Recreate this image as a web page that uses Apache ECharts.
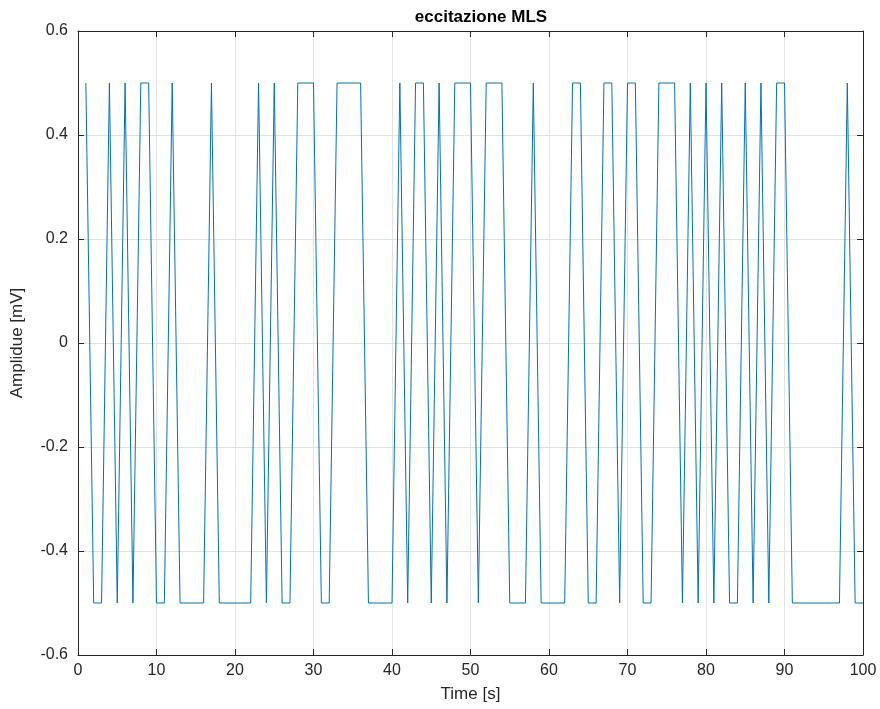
<!DOCTYPE html>
<html><head><meta charset="utf-8">
<script src="https://cdn.jsdelivr.net/npm/echarts@6/dist/echarts.min.js"></script>
<style>html,body{margin:0;padding:0;background:#fff}#c{width:880px;height:709px}</style>
</head><body><div id="c"></div>
<script>
const title = "eccitazione MLS";
const xLabel = "Time [s]";
const yLabel = "Amplidue [mV]";
const timeValues = [];
for (let i = 1; i <= 100; i++) timeValues.push(i);
// MLS sequence (+0.5 / -0.5), samples 1..100
const amplitude = [
  0.5,-0.5,-0.5,0.5,-0.5,0.5,-0.5,0.5,0.5,-0.5,
  -0.5,0.5,-0.5,-0.5,-0.5,-0.5,0.5,-0.5,-0.5,-0.5,
  -0.5,-0.5,0.5,-0.5,0.5,-0.5,-0.5,0.5,0.5,0.5,
  -0.5,-0.5,0.5,0.5,0.5,0.5,-0.5,-0.5,-0.5,-0.5,
  0.5,-0.5,0.5,0.5,-0.5,0.5,-0.5,0.5,0.5,0.5,
  -0.5,0.5,0.5,0.5,-0.5,-0.5,-0.5,0.5,-0.5,-0.5,
  -0.5,-0.5,0.5,0.5,-0.5,-0.5,0.5,0.5,-0.5,0.5,
  0.5,-0.5,-0.5,0.5,0.5,0.5,-0.5,0.5,-0.5,0.5,
  -0.5,0.5,-0.5,-0.5,0.5,-0.5,0.5,-0.5,0.5,0.5,
  -0.5,-0.5,-0.5,-0.5,-0.5,-0.5,-0.5,0.5,-0.5,-0.5
];
const data = timeValues.map((t, i) => [t, amplitude[i]]);
const font = "'Liberation Sans', Arial, sans-serif";
const txt = '#262626';
const axisLine = {show: true, onZero: false, lineStyle: {color: '#262626', width: 1}};
const tick = {show: true, inside: true, length: 6, lineStyle: {color: '#262626'}};
const chart = echarts.init(document.getElementById('c'));
chart.setOption({
  animation: false,
  backgroundColor: '#fff',
  title: {text: title, left: 476, top: 4, textAlign: 'center',
    textStyle: {fontFamily: font, fontSize: 17, fontWeight: 'bold', color: '#000'}},
  grid: {left: 78, right: 17, top: 31, bottom: 54, containLabel: false},
  xAxis: [{
    type: 'value', min: 0, max: 100, interval: 10, position: 'bottom',
    name: xLabel, nameLocation: 'middle', nameGap: 31,
    nameTextStyle: {fontFamily: font, fontSize: 17, color: txt},
    axisLine: axisLine, axisTick: tick,
    axisLabel: {fontFamily: font, fontSize: 16, color: txt, margin: 8},
    splitLine: {show: true, lineStyle: {color: '#e3e3e3', width: 1}}
  }, {
    type: 'value', min: 0, max: 100, interval: 10, position: 'top',
    axisLine: axisLine, axisTick: tick, axisLabel: {show: false}, splitLine: {show: false}
  }],
  yAxis: [{
    type: 'value', min: -0.6, max: 0.6, interval: 0.2, position: 'left',
    name: yLabel, nameLocation: 'middle', nameGap: 52,
    nameTextStyle: {fontFamily: font, fontSize: 17, color: txt},
    axisLine: axisLine, axisTick: tick,
    axisLabel: {fontFamily: font, fontSize: 16, color: txt, margin: 10,
      formatter: v => Math.abs(v) < 1e-9 ? '0' : v.toFixed(1)},
    splitLine: {show: true, lineStyle: {color: '#e3e3e3', width: 1}}
  }, {
    type: 'value', min: -0.6, max: 0.6, interval: 0.2, position: 'right',
    axisLine: axisLine, axisTick: tick, axisLabel: {show: false}, splitLine: {show: false}
  }],
  series: [{
    type: 'line', data: data, xAxisIndex: 0, yAxisIndex: 0,
    showSymbol: false, symbol: 'none',
    lineStyle: {color: '#0072BD', width: 1}
  }]
});
</script></body></html>
